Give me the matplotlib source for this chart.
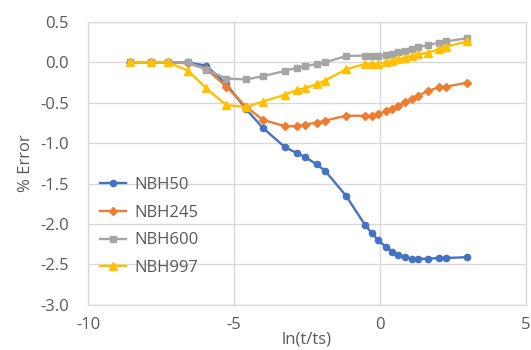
import matplotlib
matplotlib.use('Agg')
import matplotlib.pyplot as plt

# --- data ---
ln_t = [-8.57, -7.83, -7.26, -6.58, -5.95, -5.26, -4.58, -4.01, -3.25, -2.85,
        -2.57, -2.17, -1.88, -1.16, -0.51, -0.28, -0.06, 0.20, 0.43, 0.63,
        0.86, 1.09, 1.31, 1.65, 2.03, 2.28, 2.99]

nbh50 = [0.0, 0.0, 0.0, 0.0, -0.04, -0.27, -0.58, -0.81, -1.05, -1.12,
         -1.17, -1.26, -1.34, -1.65, -2.01, -2.11, -2.20, -2.28, -2.34, -2.38,
         -2.41, -2.43, -2.43, -2.43, -2.42, -2.42, -2.41]
nbh245 = [0.0, 0.0, 0.0, -0.01, -0.08, -0.30, -0.55, -0.71, -0.79, -0.79,
          -0.77, -0.745, -0.72, -0.66, -0.66, -0.66, -0.64, -0.60, -0.57, -0.54,
          -0.49, -0.455, -0.415, -0.35, -0.31, -0.30, -0.25]
nbh600 = [0.0, 0.0, 0.0, 0.0, -0.09, -0.20, -0.21, -0.17, -0.105, -0.065,
          -0.05, -0.02, 0.0, 0.08, 0.085, 0.08, 0.08, 0.09, 0.11, 0.125,
          0.145, 0.165, 0.19, 0.215, 0.245, 0.26, 0.30]
nbh997 = [0.0, 0.0, 0.0, -0.10, -0.32, -0.53, -0.55, -0.485, -0.40, -0.34,
          -0.32, -0.27, -0.225, -0.085, -0.02, -0.02, -0.02, 0.0, 0.02, 0.04,
          0.06, 0.08, 0.10, 0.12, 0.165, 0.195, 0.26]

series_names = ['NBH50', 'NBH245', 'NBH600', 'NBH997']
series_vals = [nbh50, nbh245, nbh600, nbh997]
colors = ['#4472C4', '#ED7D31', '#A5A5A5', '#FFC000']
markers = ['o', 'D', 's', '^']
msizes = [4.5, 4.5, 4.5, 5.5]

x_ticks = [-10, -5, 0, 5]
y_ticks = [0.5, 0.0, -0.5, -1.0, -1.5, -2.0, -2.5, -3.0]

plt.rcParams['font.family'] = ['Open Sans', 'DejaVu Sans']

fig = plt.figure(figsize=(5.31, 3.5), dpi=100)
ax = fig.add_axes([0.166, 0.129, 0.824, 0.808])

for name, vals, c, m, ms in zip(series_names, series_vals, colors, markers, msizes):
    ax.plot(ln_t, vals, color=c, marker=m, markersize=ms, linewidth=1.7, label=name)

ax.set_xlim(-10, 5)
ax.set_ylim(-3.0, 0.5)
ax.set_xticks(x_ticks)
ax.set_yticks(y_ticks)
ax.set_xticklabels([str(v) for v in x_ticks])
ax.set_yticklabels([f'{v:.1f}' for v in y_ticks])

ax.grid(True, color='#D9D9D9', linewidth=1.0)
ax.set_axisbelow(True)
for s in ax.spines.values():
    s.set_color('#D9D9D9')
    s.set_linewidth(1.0)

ax.tick_params(axis='both', length=0, labelsize=12, colors='#595959')
ax.tick_params(axis='y', pad=14)
ax.tick_params(axis='x', pad=9)

ax.set_ylabel('% Error', fontsize=12, color='#595959', labelpad=4)
ax.set_xlabel('ln(t/ts)', fontsize=12, color='#595959', labelpad=-1)

ax.legend(loc='lower left', bbox_to_anchor=(0.0, 0.06), frameon=False,
          fontsize=12, labelcolor='#595959', handlelength=1.6,
          handletextpad=0.5, labelspacing=0.71, borderaxespad=0.3)

fig.savefig('out.png', dpi=100)
